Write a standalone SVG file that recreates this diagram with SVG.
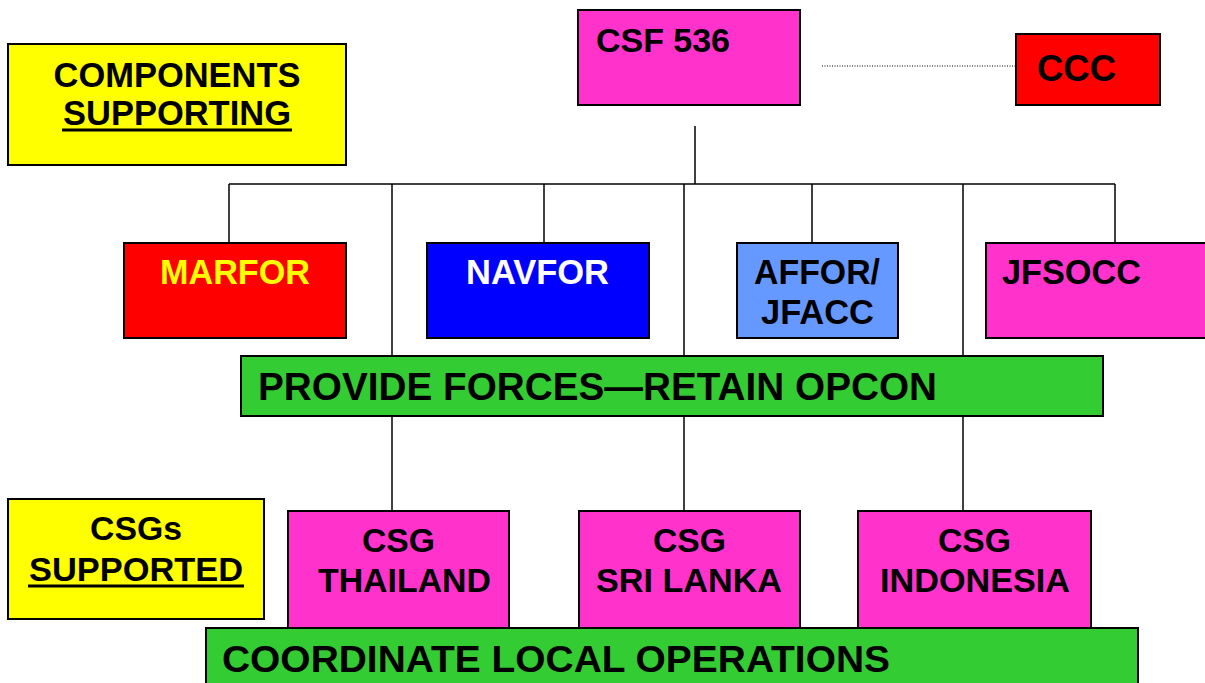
<svg xmlns="http://www.w3.org/2000/svg" width="1205" height="683" viewBox="0 0 1205 683">
<style>
.b{stroke:#000;stroke-width:2}
.t{font-family:"Liberation Sans",Arial,sans-serif;font-weight:bold;fill:#000}
.c{stroke:#000;stroke-width:1.5;fill:none}
.mag{fill:#FF33CC}.red{fill:#FF0000}.blu{fill:#0000FF}.lbl{fill:#6699FF}.grn{fill:#33CC33}.yel{fill:#FFFF00}
</style>
<rect width="1205" height="683" fill="#fff"/>
<g id="connectors">
<line class="c" x1="695" y1="126" x2="695" y2="184"/>
<line class="c" x1="229" y1="184" x2="1115" y2="184"/>
<line class="c" x1="229" y1="184" x2="229" y2="243"/>
<line class="c" x1="544" y1="184" x2="544" y2="243"/>
<line class="c" x1="812" y1="184" x2="812" y2="243"/>
<line class="c" x1="1115" y1="184" x2="1115" y2="243"/>
<line class="c" x1="392" y1="184" x2="392" y2="511"/>
<line class="c" x1="684" y1="184" x2="684" y2="511"/>
<line class="c" x1="963" y1="184" x2="963" y2="511"/>
<line x1="822" y1="66" x2="1016" y2="66" stroke="#000" stroke-width="1" stroke-dasharray="1,1.5"/>
</g>
<g id="components-supporting">
<rect class="b yel" x="8" y="44" width="338" height="121"/>
<text class="t" x="177" y="87" font-size="35" text-anchor="middle" textLength="247" lengthAdjust="spacingAndGlyphs">COMPONENTS</text>
<text class="t" x="177" y="125" font-size="35" text-anchor="middle" textLength="228" lengthAdjust="spacingAndGlyphs">SUPPORTING</text>
<rect x="62" y="128.5" width="230" height="3" fill="#000"/>
</g>
<g id="csf536">
<rect class="b mag" x="578" y="10" width="222" height="95"/>
<text class="t" x="596" y="52" font-size="34" textLength="134" lengthAdjust="spacingAndGlyphs">CSF 536</text>
</g>
<g id="ccc">
<rect class="b red" x="1016" y="34" width="144" height="71"/>
<text class="t" x="1037" y="81" font-size="37" textLength="79" lengthAdjust="spacingAndGlyphs">CCC</text>
</g>
<g id="marfor">
<rect class="b red" x="124" y="243" width="222" height="95"/>
<text class="t" x="160" y="284" font-size="35" fill="#FFFF00" style="fill:#FFFF00" textLength="150" lengthAdjust="spacingAndGlyphs">MARFOR</text>
</g>
<g id="navfor">
<rect class="b blu" x="427" y="243" width="222" height="95"/>
<text class="t" x="466" y="284" font-size="35" style="fill:#FFFFFF" textLength="143" lengthAdjust="spacingAndGlyphs">NAVFOR</text>
</g>
<g id="affor">
<rect class="b lbl" x="737" y="243" width="161" height="95"/>
<text class="t" x="754" y="284" font-size="35" textLength="126" lengthAdjust="spacingAndGlyphs">AFFOR/</text>
<text class="t" x="761" y="324" font-size="35" textLength="113" lengthAdjust="spacingAndGlyphs">JFACC</text>
</g>
<g id="jfsocc">
<rect class="b mag" x="986" y="243" width="230" height="95"/>
<text class="t" x="1002" y="284" font-size="35" textLength="139" lengthAdjust="spacingAndGlyphs">JFSOCC</text>
</g>
<g id="provide-forces">
<rect class="b grn" x="241" y="356" width="862" height="60"/>
<text class="t" x="258" y="400" font-size="38" textLength="679" lengthAdjust="spacingAndGlyphs">PROVIDE FORCES—RETAIN OPCON</text>
</g>
<g id="csgs-supported">
<rect class="b yel" x="8" y="499" width="256" height="120"/>
<text class="t" x="90" y="540" font-size="34" textLength="92" lengthAdjust="spacingAndGlyphs">CSGs</text>
<text class="t" x="29" y="581" font-size="34" textLength="214" lengthAdjust="spacingAndGlyphs">SUPPORTED</text>
<rect x="28" y="584.5" width="216" height="3" fill="#000"/>
</g>
<g id="csg-thailand">
<rect class="b mag" x="288" y="511" width="221" height="117"/>
<text class="t" x="362" y="552" font-size="34" textLength="73" lengthAdjust="spacingAndGlyphs">CSG</text>
<text class="t" x="318" y="592" font-size="34" textLength="173" lengthAdjust="spacingAndGlyphs">THAILAND</text>
</g>
<g id="csg-srilanka">
<rect class="b mag" x="579" y="511" width="221" height="117"/>
<text class="t" x="653" y="552" font-size="34" textLength="73" lengthAdjust="spacingAndGlyphs">CSG</text>
<text class="t" x="596" y="592" font-size="34" textLength="186" lengthAdjust="spacingAndGlyphs">SRI LANKA</text>
</g>
<g id="csg-indonesia">
<rect class="b mag" x="858" y="511" width="233" height="117"/>
<text class="t" x="938" y="552" font-size="34" textLength="73" lengthAdjust="spacingAndGlyphs">CSG</text>
<text class="t" x="880" y="592" font-size="34" textLength="190" lengthAdjust="spacingAndGlyphs">INDONESIA</text>
</g>
<g id="coordinate-local">
<rect class="b grn" x="206" y="628" width="932" height="70"/>
<text class="t" x="222" y="672" font-size="37" textLength="668" lengthAdjust="spacingAndGlyphs">COORDINATE LOCAL OPERATIONS</text>
</g>
</svg>
